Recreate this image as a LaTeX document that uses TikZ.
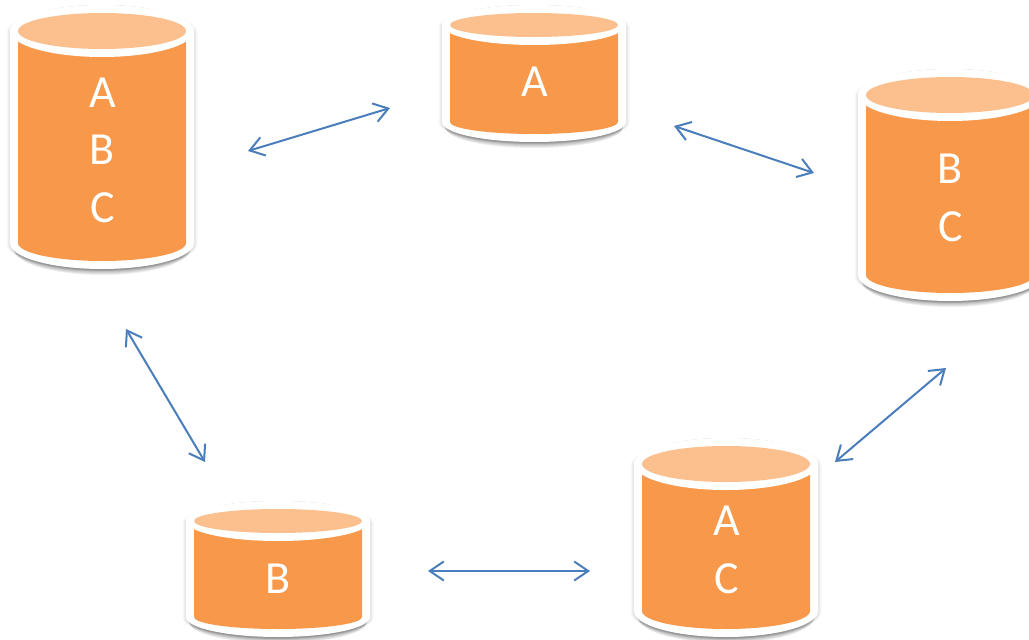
\documentclass[tikz,border=0pt]{standalone}
\usepackage{fontspec}
\setmainfont{Carlito}
\usetikzlibrary{arrows.meta}
\definecolor{bodyor}{HTML}{F8984A}
\definecolor{topor}{HTML}{FBC08E}
\definecolor{linkblue}{HTML}{4A7EBB}
\tikzset{
  cyltext/.style={text=white,align=center,inner sep=0pt,font=\fontsize{46}{57.5}\selectfont},
  link/.style={draw=linkblue,line width=2pt,{Straight Barb[length=14pt,width=19pt,line width=2pt]}-{Straight Barb[length=14pt,width=19pt,line width=2pt]}},
  cylshadow/.style={fill=black,fill opacity=.065,draw=none},
  cylhalo/.style={fill=black,fill opacity=.016,draw=none}
}
% #1 name, #2 cx, #3 top centre y, #4 bottom centre y, #5 ry, #6 text, #7 text centre y
\newcommand{\cylinderdb}[7]{%
  \foreach \d in {0.5,1,1.5,2,2.5,3,3.5}{%
    \path[cylhalo] (#2-92-\d,#3+2) arc[start angle=180,end angle=360,x radius=92+\d,y radius=#5+8+\d*0.4]
      -- (#2+92+\d,#4+1) arc[start angle=0,end angle=180,x radius=92+\d,y radius=#5+8+\d*0.4] -- cycle;
  }
  \foreach \k/\ins in {1/1,2/1,3/2,4/2,5/3,6/3,7/4}{%
    \path[cylshadow] (#2-92+\ins,#3) arc[start angle=180,end angle=360,x radius=92-\ins,y radius=#5+8]
      -- (#2+92-\ins,#4+\k-1) arc[start angle=0,end angle=180,x radius=92-\ins,y radius=#5+8] -- cycle;
  }
  \path[fill=white] (#2-92,#3) arc[start angle=180,end angle=360,x radius=92,y radius=#5+8]
      -- (#2+92,#4) arc[start angle=0,end angle=180,x radius=92,y radius=#5+8] -- cycle;
  \path[fill=bodyor] (#2-84,#3) -- (#2+84,#3) -- (#2+84,#4) arc[start angle=0,end angle=180,x radius=84,y radius=#5] -- cycle;
  \path[fill=white] (#2,#3) ellipse[x radius=92,y radius=#5+8];
  \path[fill=topor] (#2,#3) ellipse[x radius=84,y radius=#5];
  \node[cyltext] (#1) at (#2+0.5,#7) {#6};
}
\begin{document}
\begin{tikzpicture}[x=1pt,y=-1pt]
  \path[use as bounding box,clip] (0,0) rectangle (1029,640);
  \fill[white] (0,0) rectangle (1029,640);
  \cylinderdb{abc}{102}{31}{243}{18}{A\\B\\C}{150}
  \cylinderdb{a}{534}{25}{122}{12}{A}{82}
  \cylinderdb{bc}{950}{95}{275}{18}{B\\C}{198}
  \cylinderdb{ac}{726}{464}{611}{18}{A\\C}{550}
  \cylinderdb{b}{278}{521}{617}{12}{B}{579}
  \coordinate (abcR) at (248,151);
  \coordinate (aL) at (390,108);
  \coordinate (aR) at (674,126);
  \coordinate (bcL) at (814,173);
  \coordinate (bcB) at (946,368);
  \coordinate (acR) at (835,462);
  \coordinate (acL) at (590,571);
  \coordinate (bR) at (428,571);
  \coordinate (bT) at (205,462);
  \coordinate (abcB) at (126,329);
  \draw[link] (abcR) -- (aL);
  \draw[link] (aR) -- (bcL);
  \draw[link] (bcB) -- (acR);
  \draw[link] (acL) -- (bR);
  \draw[link] (bT) -- (abcB);
\end{tikzpicture}
\end{document}
